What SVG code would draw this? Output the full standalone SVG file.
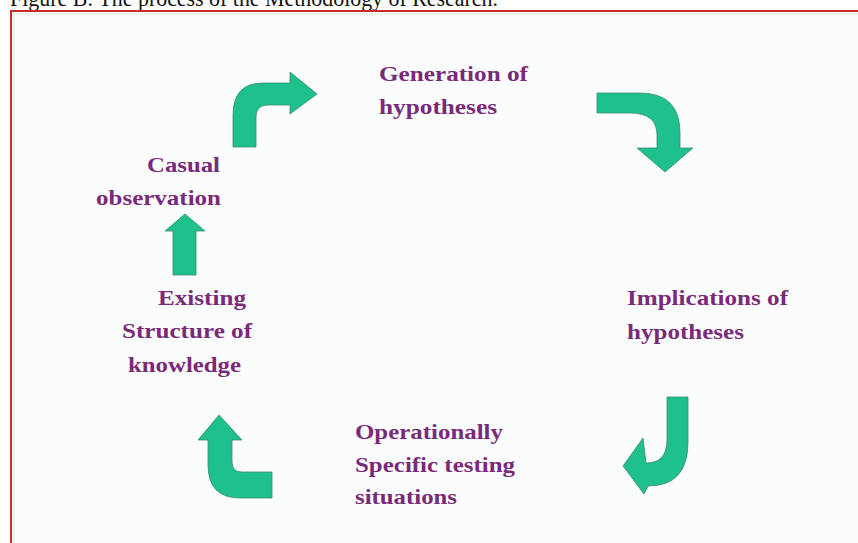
<svg xmlns="http://www.w3.org/2000/svg" width="858" height="543" viewBox="0 0 858 543">
<style>
.title{font-family:"Liberation Serif","Times New Roman",serif;font-size:24px;fill:#111}
.lbl{font-family:"Liberation Serif","Times New Roman",serif;font-size:21px;font-weight:bold;fill:#7a2a78}
.arr{fill:#1ec08e;stroke:#3a8a70;stroke-width:0.8;stroke-linejoin:miter}
</style>
<rect x="0" y="0" width="858" height="543" fill="#ffffff"/>
<text class="title" x="10" y="6" textLength="488" lengthAdjust="spacingAndGlyphs">Figure B: The process of the Methodology of Research.</text>
<rect x="11" y="11" width="860" height="540" fill="#fbfdfd" stroke="#cc2a2a" stroke-width="2"/>
<rect x="14" y="14" width="860" height="540" fill="none" stroke="#e6f6f6" stroke-width="2"/>

<g id="connectors">
<path class="arr" d="M233,147 L233,115 Q233,83 263,83 L290,83 L290,72 L317,94 L290,114 L290,105 L268,105 Q256,105 256,117 L256,147 Z"/>
<path class="arr" d="M597,93 L640,93 Q680,93 680,133 L680,148 L693,148 L665,172 L637,148 L657,148 L657,135 Q657,113 630,113 L597,113 Z"/>
<path class="arr" d="M667,397 L688,397 L688,442 Q688,486 648,486 L644,494 L623,466 L643,438 L646,463 Q667,463 667,440 Z"/>
<path class="arr" d="M272,472 L272,498 L240,498 Q208,498 208,465 L208,440 L198,440 L219,415 L242,440 L232,440 L232,462 Q232,472 242,472 Z"/>
<path class="arr" d="M173,275 L173,231 L165,231 L185,214 L205,231 L196,231 L196,275 Z"/>
</g>

<g id="node-generation">
<text class="lbl" x="379" y="81" textLength="149" lengthAdjust="spacingAndGlyphs">Generation of</text>
<text class="lbl" x="379" y="114" textLength="118" lengthAdjust="spacingAndGlyphs">hypotheses</text>
</g>
<g id="node-casual">
<text class="lbl" x="147" y="172" textLength="73" lengthAdjust="spacingAndGlyphs">Casual</text>
<text class="lbl" x="96" y="205" textLength="125" lengthAdjust="spacingAndGlyphs">observation</text>
</g>
<g id="node-existing">
<text class="lbl" x="158" y="305" textLength="88" lengthAdjust="spacingAndGlyphs">Existing</text>
<text class="lbl" x="122" y="338" textLength="130" lengthAdjust="spacingAndGlyphs">Structure of</text>
<text class="lbl" x="128" y="372" textLength="113" lengthAdjust="spacingAndGlyphs">knowledge</text>
</g>
<g id="node-implications">
<text class="lbl" x="627" y="305" textLength="161" lengthAdjust="spacingAndGlyphs">Implications of</text>
<text class="lbl" x="627" y="339" textLength="117" lengthAdjust="spacingAndGlyphs">hypotheses</text>
</g>
<g id="node-operational">
<text class="lbl" x="355" y="439" textLength="148" lengthAdjust="spacingAndGlyphs">Operationally</text>
<text class="lbl" x="355" y="472" textLength="160" lengthAdjust="spacingAndGlyphs">Specific testing</text>
<text class="lbl" x="355" y="504" textLength="102" lengthAdjust="spacingAndGlyphs">situations</text>
</g>
</svg>
